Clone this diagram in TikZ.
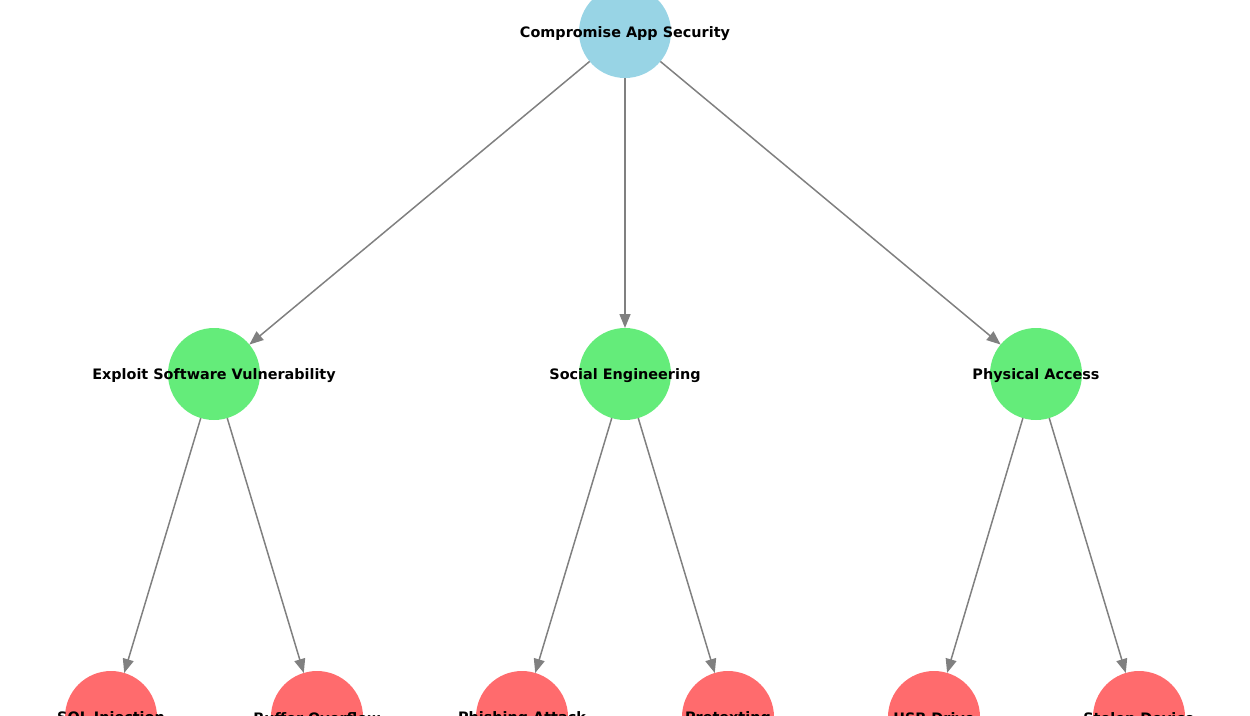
\documentclass[tikz,border=0pt]{standalone}
\usepackage{fontspec}
\setmainfont{DejaVu Sans}
\usetikzlibrary{arrows.meta}
\definecolor{rootc}{HTML}{98D4E5}
\definecolor{midc}{HTML}{64EC7A}
\definecolor{leafc}{HTML}{FF6B6D}
\definecolor{edgec}{HTML}{808080}
\tikzset{
  dot/.style={circle,minimum size=92pt,inner sep=0pt,outer sep=0pt,draw=none},
  lbl/.style={font=\bfseries\fontsize{14.4pt}{16pt}\selectfont,text=black,inner sep=0pt,yshift=-1.5pt},
  edge/.style={draw=edgec,line width=1.5pt,-{Triangle[length=14pt,width=11pt]}}
}
\begin{document}
\begin{tikzpicture}[x=1pt,y=-1pt]
\useasboundingbox (0,0) rectangle (1250,715);
\clip (0,0) rectangle (1250,715);
\node[dot,fill=rootc] (r) at (625,32) {};
\node[dot,fill=midc] (a) at (214,374) {};
\node[dot,fill=midc] (b) at (625,374) {};
\node[dot,fill=midc] (c) at (1036,374) {};
\node[dot,fill=leafc] (a1) at (111,717) {};
\node[dot,fill=leafc] (a2) at (317,717) {};
\node[dot,fill=leafc] (b1) at (522,717) {};
\node[dot,fill=leafc] (b2) at (728,717) {};
\node[dot,fill=leafc] (c1) at (934,717) {};
\node[dot,fill=leafc] (c2) at (1139,717) {};
\draw[edge] (r) -- (a);
\draw[edge] (r) -- (b);
\draw[edge] (r) -- (c);
\draw[edge] (a) -- (a1);
\draw[edge] (a) -- (a2);
\draw[edge] (b) -- (b1);
\draw[edge] (b) -- (b2);
\draw[edge] (c) -- (c1);
\draw[edge] (c) -- (c2);
\node[lbl] (lr) at (r.center) {Compromise App Security};
\node[lbl] (la) at (a.center) {Exploit Software Vulnerability};
\node[lbl] (lb) at (b.center) {Social Engineering};
\node[lbl] (lc) at (c.center) {Physical Access};
\node[lbl] (la1) at (a1.center) {SQL Injection};
\node[lbl] (la2) at (a2.center) {Buffer Overflow};
\node[lbl] (lb1) at (b1.center) {Phishing Attack};
\node[lbl] (lb2) at (b2.center) {Pretexting};
\node[lbl] (lc1) at (c1.center) {USB Drive};
\node[lbl] (lc2) at (c2.center) {Stolen Device};
\end{tikzpicture}
\end{document}
